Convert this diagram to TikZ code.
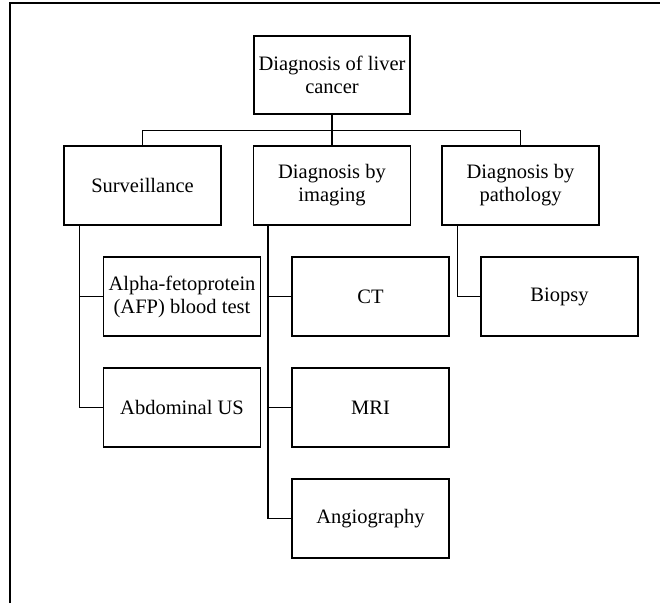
\documentclass[tikz,border=0pt]{standalone}
\usepackage{fontspec}
\setmainfont{Liberation Serif}
\begin{document}
\begin{tikzpicture}[x=1pt,y=-1pt,
  box/.style={draw, line width=1.4pt, minimum width=157pt, minimum height=79pt, inner sep=0pt, align=center, font=\fontsize{20.5}{23}\selectfont},
  conn/.style={line width=1.4pt}]
\useasboundingbox (0,0) rectangle (660,603);
\draw[line width=1.6pt] (10,603) -- (10,3) -- (660,3);
\node[box, minimum width=156pt, minimum height=78pt] (root) at (332,75) {Diagnosis of liver\\cancer};
\node[box] (surv) at (142.5,185.5) {Surveillance};
\node[box] (img) at (332,185.5) {Diagnosis by\\imaging};
\node[box] (path) at (520.5,185.5) {Diagnosis by\\pathology};
\node[box] (afp) at (182,296.5) {Alpha-fetoprotein\\(AFP) blood test};
\node[box] (abd) at (182,407.5) {Abdominal US};
\node[box] (ct) at (370.5,296.5) {CT};
\node[box] (mri) at (370.5,407.5) {MRI};
\node[box] (ang) at (370.5,518.5) {Angiography};
\node[box] (bio) at (559.5,296.5) {Biopsy};
\coordinate (bus) at ([yshift=-16pt]root.south);
\draw[conn] (root.south) -- (bus);
\draw[conn] (bus) -| (surv.north);
\draw[conn] (bus) -| (path.north);
\draw[conn] (bus) -- (img.north);
\draw[conn] ([xshift=16pt]surv.south west) |- (afp.west);
\draw[conn] ([xshift=16pt]surv.south west) |- (abd.west);
\draw[conn] ([xshift=15pt]img.south west) |- (ct.west);
\draw[conn] ([xshift=15pt]img.south west) |- (mri.west);
\draw[conn] ([xshift=15pt]img.south west) |- (ang.west);
\draw[conn] ([xshift=16pt]path.south west) |- (bio.west);
\end{tikzpicture}
\end{document}
